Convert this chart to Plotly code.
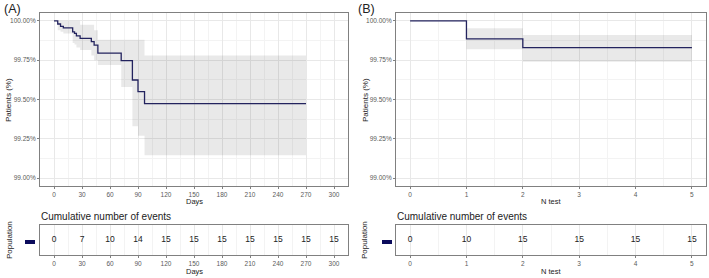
import plotly.graph_objects as go

W, H = 709, 278

# ---------------- data ----------------
# Panel A: Kaplan-Meier style step curve (days, % patients)
a_days = [0, 4, 7, 10, 20, 22, 24, 28, 40, 43, 47, 72, 84, 90, 97, 270]
a_surv = [100.0, 99.98, 99.965, 99.955, 99.93, 99.92, 99.905, 99.889, 99.868, 99.846, 99.795,
          99.747, 99.624, 99.55, 99.474, 99.474]
a_upper = [100.0, 100.0, 100.0, 100.0, 100.0, 100.0, 100.0, 99.975, 99.975, 99.94, 99.88,
           99.88, 99.88, 99.88, 99.78, 99.78]
a_lower = [100.0, 99.94, 99.93, 99.92, 99.86, 99.85, 99.83, 99.815, 99.78, 99.75, 99.72,
           99.58, 99.33, 99.27, 99.146, 99.146]

# Panel B: step curve by number of tests
b_tests = [0, 1, 2, 5]
b_surv = [100.0, 99.885, 99.83, 99.83]
b_upper = [100.0, 99.953, 99.91, 99.91]
b_lower = [100.0, 99.82, 99.74, 99.74]

# risk tables: cumulative number of events
a_table_x = [0, 30, 60, 90, 120, 150, 180, 210, 240, 270, 300]
a_table_events = [0, 7, 10, 14, 15, 15, 15, 15, 15, 15, 15]
b_table_x = [0, 1, 2, 3, 4, 5]
b_table_events = [0, 10, 15, 15, 15, 15]

y_ticks = [99.0, 99.25, 99.5, 99.75, 100.0]
y_ticklabels = ["99.00%", "99.25%", "99.50%", "99.75%", "100.00%"]

# ---------------- style ----------------
LINE = "#23235E"
BAND = "rgba(0,0,0,0.085)"
BORDER = "#808080"
GRID = "#E8E8E8"
MINOR = "#F3F3F3"
TICKC = "#5A5A5A"
FONT = "Liberation Sans"


def px_x(x):
    return x / W


def px_y(y):
    return 1 - y / H


fig = go.Figure()

# CI bands + lines
fig.add_trace(go.Scatter(x=a_days, y=a_lower, mode="lines", line=dict(width=0, shape="hv"),
                         hoverinfo="skip", showlegend=False, xaxis="x", yaxis="y"))
fig.add_trace(go.Scatter(x=a_days, y=a_upper, mode="lines", line=dict(width=0, shape="hv"),
                         fill="tonexty", fillcolor=BAND, hoverinfo="skip", showlegend=False,
                         xaxis="x", yaxis="y"))
fig.add_trace(go.Scatter(x=a_days, y=a_surv, mode="lines", line=dict(color=LINE, width=1.3, shape="hv"),
                         showlegend=False, xaxis="x", yaxis="y"))

fig.add_trace(go.Scatter(x=b_tests, y=b_lower, mode="lines", line=dict(width=0, shape="hv"),
                         hoverinfo="skip", showlegend=False, xaxis="x2", yaxis="y2"))
fig.add_trace(go.Scatter(x=b_tests, y=b_upper, mode="lines", line=dict(width=0, shape="hv"),
                         fill="tonexty", fillcolor=BAND, hoverinfo="skip", showlegend=False,
                         xaxis="x2", yaxis="y2"))
fig.add_trace(go.Scatter(x=b_tests, y=b_surv, mode="lines", line=dict(color=LINE, width=1.3, shape="hv"),
                         showlegend=False, xaxis="x2", yaxis="y2"))

# tables
fig.add_trace(go.Scatter(x=a_table_x, y=[0] * len(a_table_x), mode="text",
                         text=[str(v) for v in a_table_events],
                         textfont=dict(family=FONT, size=8.5, color="#222222"),
                         showlegend=False, xaxis="x3", yaxis="y3"))
fig.add_trace(go.Scatter(x=b_table_x, y=[0] * len(b_table_x), mode="text",
                         text=[str(v) for v in b_table_events],
                         textfont=dict(family=FONT, size=8.5, color="#222222"),
                         showlegend=False, xaxis="x4", yaxis="y4"))

axis_common = dict(showline=True, mirror=True, linecolor=BORDER, linewidth=1,
                   ticks="outside", ticklen=2, tickcolor=BORDER,
                   tickfont=dict(family=FONT, size=6.5, color=TICKC),
                   showgrid=True, gridcolor=GRID, gridwidth=1, zeroline=False)

xa_dom = [px_x(40), px_x(348)]
xb_dom = [px_x(396), px_x(706)]
main_dom = [px_y(186), px_y(13)]
tab_dom = [px_y(255), px_y(225)]

fig.update_layout(
    width=W, height=H, margin=dict(l=0, r=0, t=0, b=0),
    paper_bgcolor="white", plot_bgcolor="white",
    font=dict(family=FONT, color="#222222"),
    xaxis=dict(domain=xa_dom, anchor="y", range=[-15, 315], tickmode="array",
               tickvals=a_table_x, minor=dict(dtick=15, tick0=0, showgrid=True, gridcolor=MINOR, ticklen=0),
               **axis_common),
    yaxis=dict(domain=main_dom, anchor="x", range=[98.95, 100.05], tickmode="array",
               tickvals=y_ticks, ticktext=y_ticklabels,
               minor=dict(dtick=0.125, tick0=99, showgrid=True, gridcolor=MINOR, ticklen=0),
               **axis_common),
    xaxis2=dict(domain=xb_dom, anchor="y2", range=[-0.25, 5.25], tickmode="array",
                tickvals=b_table_x, minor=dict(dtick=0.5, tick0=0, showgrid=True, gridcolor=MINOR, ticklen=0),
                **axis_common),
    yaxis2=dict(domain=main_dom, anchor="x2", range=[98.95, 100.05], tickmode="array",
                tickvals=y_ticks, ticktext=y_ticklabels,
                minor=dict(dtick=0.125, tick0=99, showgrid=True, gridcolor=MINOR, ticklen=0),
                **axis_common),
    xaxis3=dict(domain=xa_dom, anchor="y3", range=[-15, 315], tickmode="array",
                tickvals=a_table_x, minor=dict(dtick=15, tick0=0, showgrid=True, gridcolor=MINOR, ticklen=0),
                **axis_common),
    yaxis3=dict(domain=tab_dom, anchor="x3", range=[-1, 1], showticklabels=False, ticks="",
                showline=True, mirror=True, linecolor=BORDER, linewidth=1, showgrid=False, zeroline=False),
    xaxis4=dict(domain=xb_dom, anchor="y4", range=[-0.25, 5.25], tickmode="array",
                tickvals=b_table_x, minor=dict(dtick=0.5, tick0=0, showgrid=True, gridcolor=MINOR, ticklen=0),
                **axis_common),
    yaxis4=dict(domain=tab_dom, anchor="x4", range=[-1, 1], showticklabels=False, ticks="",
                showline=True, mirror=True, linecolor=BORDER, linewidth=1, showgrid=False, zeroline=False),
)

ann = []


def add_text(text, x, y, size, color="#222222", angle=0, xanchor="center"):
    ann.append(dict(text=text, x=px_x(x), y=px_y(y), xref="paper", yref="paper",
                    showarrow=False, xanchor=xanchor, yanchor="middle", textangle=angle,
                    font=dict(family=FONT, size=size, color=color)))


add_text("(A)", 2, 9, 12.5, xanchor="left")
add_text("(B)", 356, 9, 12.5, xanchor="left")
add_text("Patients (%)", 8, 100, 8, angle=-90)
add_text("Patients (%)", 365, 100, 8, angle=-90)
add_text("Days", 194, 201.5, 7.5)
add_text("N test", 551, 201.5, 7.5)
add_text("Cumulative number of events", 39, 216, 10, xanchor="left")
add_text("Cumulative number of events", 395, 216, 10, xanchor="left")
add_text("Population", 9, 240, 8, angle=-90)
add_text("Population", 364, 240, 8, angle=-90)
add_text("Days", 194, 271.5, 7.5)
add_text("N test", 551, 271.5, 7.5)
fig.update_layout(annotations=ann)

# strata colour keys in the risk tables
for x0 in (25, 382):
    fig.add_shape(type="rect", xref="paper", yref="paper",
                  x0=px_x(x0), x1=px_x(x0 + 10), y0=px_y(244), y1=px_y(240),
                  fillcolor="#0B0B5C", line=dict(width=0))

fig.write_html("out.html", config={"displayModeBar": False},
               post_script="document.body.style.margin='0px';document.body.style.overflow='hidden';")
